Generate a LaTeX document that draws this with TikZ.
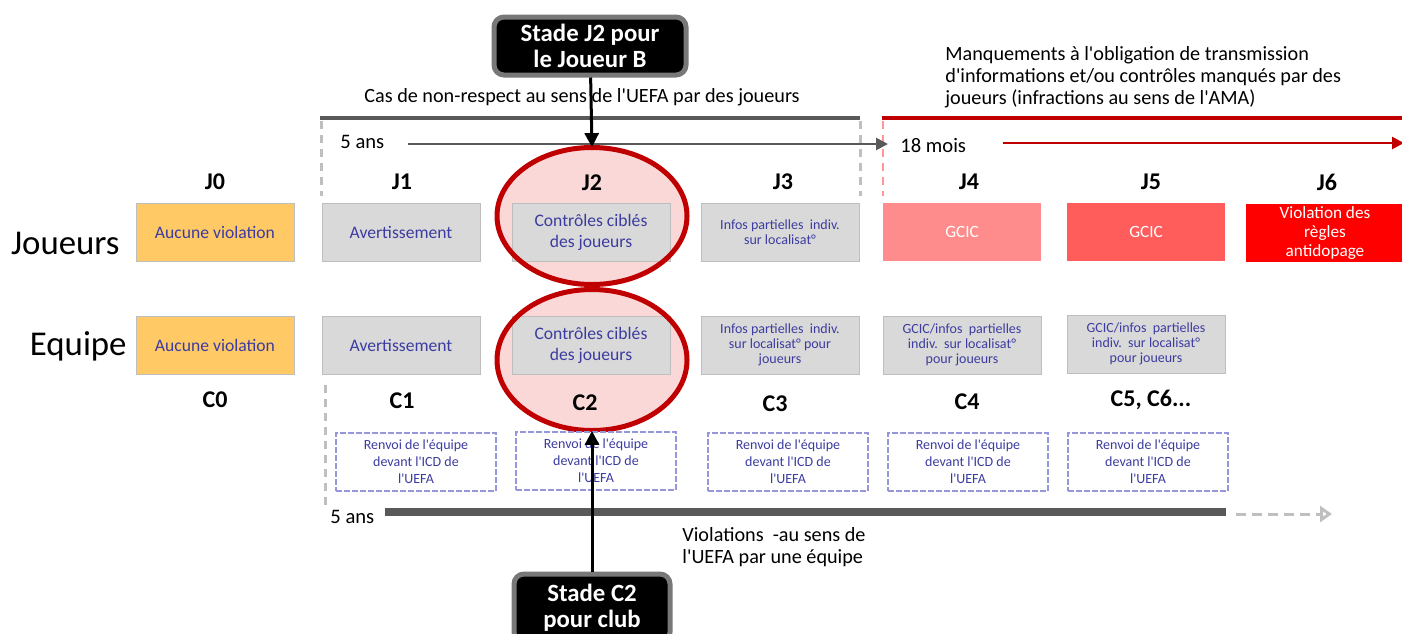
\documentclass[tikz,border=0pt]{standalone}
\usepackage{fontspec}
\setmainfont{Carlito}
\usetikzlibrary{positioning,arrows.meta,shapes.geometric}
\definecolor{boxgray}{RGB}{217,217,217}
\definecolor{edgegray}{RGB}{190,190,190}
\definecolor{boxtext}{RGB}{60,60,160}
\definecolor{noviol}{RGB}{255,201,102}
\definecolor{gcicA}{RGB}{255,140,140}
\definecolor{gcicB}{RGB}{255,92,92}
\definecolor{dopred}{RGB}{255,0,0}
\definecolor{darkred}{RGB}{192,0,0}
\definecolor{linegray}{RGB}{89,89,89}
\definecolor{dashgray}{RGB}{191,191,191}
\definecolor{dashpink}{RGB}{255,150,150}
\definecolor{lavender}{RGB}{150,150,220}
\definecolor{ringfill}{RGB}{250,216,216}
\definecolor{stadegray}{RGB}{120,120,120}
\newcommand{\sq}{\textquotesingle}

\begin{document}
\begin{tikzpicture}[
  x=0.5pt, y=-0.5pt,
  box/.style={draw=edgegray, fill=boxgray, minimum width=79pt, minimum height=29pt,
    inner sep=1pt, align=center, text=boxtext, font=\fontsize{8.8}{10.5}\selectfont},
  smallbox/.style={box, font=\fontsize{7}{7.6}\selectfont},
  nobox/.style={box, fill=noviol, draw=edgegray},
  redbox/.style={box, draw=none, text=white, font=\fontsize{8.6}{9.3}\selectfont},
  renvoi/.style={draw=lavender, line width=1.4pt, dash pattern=on 3pt off 1pt, fill=white,
    minimum width=80pt, minimum height=29pt, inner sep=1pt, align=center, text=boxtext,
    font=\fontsize{7}{8.5}\selectfont},
  stage/.style={font=\bfseries\fontsize{12}{13}\selectfont},
  ring/.style={ellipse, fill=ringfill, minimum width=95pt, inner sep=0pt},
  ringline/.style={draw=darkred, line width=2.5pt},
  stade/.style={fill=black, draw=stadegray, line width=2.5pt, rounded corners=5pt,
    text=white, align=center, inner sep=2pt, font=\bfseries\fontsize{12.4}{12.8}\selectfont},
  note/.style={align=left, inner sep=0pt, font=\fontsize{10.1}{11}\selectfont},
  row/.style={font=\fontsize{17.4}{19}\selectfont, inner sep=0pt},
  span/.style={font=\fontsize{10.3}{12}\selectfont, inner sep=0pt}
]
  \useasboundingbox (0,0) rectangle (1402,633);

  % Rings round stage 2 (fill first, outline after the boxes)
  \node[ring, minimum height=68.5pt] (ringJ) at (592,216) {};
  \node[ring, minimum height=70.5pt] (ringC) at (592,360) {};

  % Timeline frames
  \coordinate (uefaL) at (320,118);
  \coordinate (uefaR) at (860,118);
  \coordinate (amaL)  at (882,118);
  \coordinate (amaR)  at (1410,118);
  \draw[line width=2pt, linegray] (uefaL) -- (uefaR);
  \draw[line width=2pt, darkred] (amaL) -- (amaR);
  \draw[line width=1.5pt, dashgray, dash pattern=on 4pt off 3pt] (321,121) -- (321,196);
  \draw[line width=1.5pt, dashgray, dash pattern=on 4pt off 3pt] (860,121) -- (860,196);
  \draw[line width=1.2pt, dashpink, dash pattern=on 4pt off 3pt] (883,121) -- (883,196);
  \draw[line width=1.5pt, dashgray, dash pattern=on 4pt off 3pt] (325,385) -- (325,506);

  \node[note, anchor=south] (uefaTxt) at (582,106)
    {Cas de non-respect au sens de l\sq UEFA par des joueurs};
  \node[note, anchor=south west] (amaTxt) at (945,108)
    {Manquements à l\sq obligation de transmission\\d\sq informations et/ou contrôles manqués par des\\joueurs (infractions au sens de l\sq AMA)};

  % Durations
  \node[span, anchor=west] (ansJ) at (340,142) {5 ans};
  \node[span, anchor=west] (mois) at (900,145) {18 mois};
  \coordinate (ansJa) at (408,144);
  \coordinate (ansJb) at (888,144);
  \coordinate (moisA) at (1003,143);
  \coordinate (moisB) at (1404,143);
  \draw[line width=1.3pt, linegray, -{Triangle[length=6pt, width=6pt]}] (ansJa) -- (ansJb);
  \draw[line width=1.3pt, darkred, -{Triangle[length=6pt, width=6pt]}] (moisA) -- (moisB);

  % Row labels
  \node[row, anchor=east] (joueurs) at (120,243) {Joueurs};
  \node[row, anchor=east] (equipe)  at (127,346) {Equipe};

  % Players
  \node[stage] (J0) at (215,182) {J0};
  \node[stage] (J1) at (402,182) {J1};
  \node[stage] (J2) at (592,183) {J2};
  \node[stage] (J3) at (783,182) {J3};
  \node[stage] (J4) at (969,182) {J4};
  \node[stage] (J5) at (1151,182) {J5};
  \node[stage] (J6) at (1327,182) {J6};

  \node[nobox] (bJ0) at (215,232) {Aucune violation};
  \node[box] (bJ1) at (401,232) {Avertissement};
  \node[box] (bJ2) at (591,232) {Contrôles ciblés\\des joueurs};
  \node[smallbox] (bJ3) at (780,232) {Infos partielles~~indiv.\\sur localisat°};
  \node[redbox, fill=gcicA] (bJ4) at (962,232) {GCIC};
  \node[redbox, fill=gcicB] (bJ5) at (1146,232) {GCIC};
  \node[redbox, fill=dopred] (bJ6) at (1325,233) {Violation des\\règles\\antidopage};

  % Team
  \node[nobox] (bC0) at (215,345) {Aucune violation};
  \node[box] (bC1) at (401,345) {Avertissement};
  \node[box] (bC2) at (591,345) {Contrôles ciblés\\des joueurs};
  \node[smallbox] (bC3) at (780,345) {Infos partielles~~indiv.\\sur localisat° pour\\joueurs};
  \node[smallbox] (bC4) at (962,345) {GCIC/infos~~partielles\\indiv.~~sur localisat°\\pour joueurs};
  \node[smallbox] (bC5) at (1146,344) {GCIC/infos~~partielles\\indiv.~~sur localisat°\\pour joueurs};

  \node[stage] (C0) at (215,400) {C0};
  \node[stage] (C1) at (402,401) {C1};
  \node[stage] (C2) at (585,403) {C2};
  \node[stage] (C3) at (775,404) {C3};
  \node[stage] (C4) at (967,402) {C4};
  \node[stage] (C5) at (1151,400) {C5, C6...};

  % Ring outlines on top of the boxes
  \draw[ringline] (ringJ.center) ellipse [x radius=47.5pt, y radius=34.25pt];
  \draw[ringline] (ringC.center) ellipse [x radius=47.5pt, y radius=35.25pt];

  \node[renvoi] (r1) at (416,462) {Renvoi de l\sq équipe\\devant l\sq ICD de\\l\sq UEFA};
  \node[renvoi] (r2) at (596,461) {Renvoi de l\sq équipe\\devant l\sq ICD de\\l\sq UEFA};
  \node[renvoi] (r3) at (788,462) {Renvoi de l\sq équipe\\devant l\sq ICD de\\l\sq UEFA};
  \node[renvoi] (r4) at (968,462) {Renvoi de l\sq équipe\\devant l\sq ICD de\\l\sq UEFA};
  \node[renvoi] (r5) at (1148,462) {Renvoi de l\sq équipe\\devant l\sq ICD de\\l\sq UEFA};

  % Team timeline
  \node[span, anchor=west] (ansC) at (330,517) {5 ans};
  \coordinate (barA) at (385,512);
  \coordinate (barB) at (1226,512);
  \coordinate (moreA) at (1236,514);
  \coordinate (moreB) at (1332,514);
  \draw[line width=4pt, linegray] (barA) -- (barB);
  \draw[line width=1.5pt, dashgray, dash pattern=on 5pt off 3pt,
    -{Triangle[open, length=6pt, width=8pt]}] (moreA) -- (moreB);
  \node[note, anchor=north west] (violTxt) at (682,527)
    {Violations~ -au sens de\\l\sq UEFA par une équipe};

  % Stage callouts
  \node[stade, minimum width=96pt, minimum height=29pt] (stadeJ) at (590,46)
    {Stade J2 pour\\le Joueur B};
  \node[stade, minimum width=78pt, minimum height=34pt] (stadeC) at (592,608)
    {Stade C2\\pour club};
  \draw[line width=1.5pt, -{Triangle[length=7pt, width=7pt]}] (stadeJ) -- (ringJ.north);
  \draw[line width=1.5pt, -{Triangle[length=7pt, width=7pt]}] (stadeC) -- (ringC.south);
\end{tikzpicture}
\end{document}
